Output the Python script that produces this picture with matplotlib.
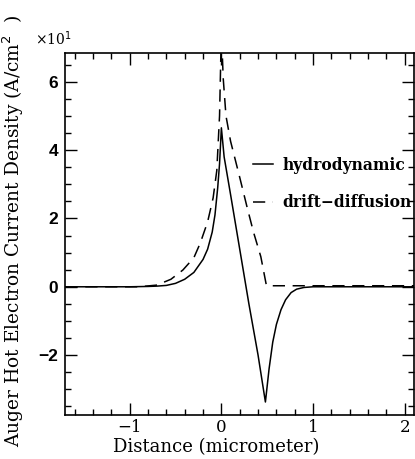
import matplotlib
matplotlib.use("Agg")
import matplotlib.pyplot as plt
from matplotlib.ticker import MultipleLocator

# hydrodynamic (solid), units of 10^1 A/cm^2
x_hydro = [-1.70, -1.0, -0.8, -0.7, -0.6, -0.5, -0.4, -0.3, -0.2, -0.15, -0.1,
           -0.07, -0.04, -0.02, 0.0, 0.03, 0.1, 0.2, 0.3, 0.4, 0.48, 0.52,
           0.56, 0.6, 0.65, 0.7, 0.76, 0.82, 0.9, 1.0, 1.2, 2.1]
y_hydro = [0.0, 0.0, 0.01, 0.02, 0.04, 0.1, 0.22, 0.42, 0.8, 1.1, 1.6,
           2.1, 2.9, 3.6, 4.65, 3.8, 2.7, 1.1, -0.5, -2.0, -3.37, -2.4,
           -1.62, -1.1, -0.67, -0.38, -0.17, -0.07, -0.02, 0.0, 0.0, 0.0]

# drift-diffusion (dashed)
x_dd = [-1.70, -0.9, -0.7, -0.64, -0.55, -0.42, -0.3, -0.23, -0.15, -0.09,
        -0.05, -0.02, 0.0, 0.02, 0.05, 0.1, 0.2, 0.28, 0.35, 0.43, 0.49,
        0.5, 2.1]
y_dd = [0.0, 0.0, 0.05, 0.12, 0.22, 0.49, 0.85, 1.28, 1.9, 2.6,
        3.4, 5.0, 7.5, 6.1, 5.0, 4.26, 3.2, 2.33, 1.6, 0.88, 0.05,
        0.03, 0.03]

serif = "DejaVu Serif"

fig = plt.figure(figsize=(4.15, 4.59), dpi=100)
ax = fig.add_axes([0.1566, 0.0959, 0.841, 0.788])

ax.plot(x_hydro, y_hydro, color="black", lw=1.1, label="hydrodynamic")
ax.plot(x_dd, y_dd, color="black", lw=1.1, dashes=(8, 5), label="drift\u2212diffusion")

ax.set_xlim(-1.705, 2.10)
ax.set_ylim(-3.75, 6.83)

ax.xaxis.set_major_locator(MultipleLocator(1))
ax.xaxis.set_minor_locator(MultipleLocator(0.2))
ax.yaxis.set_major_locator(MultipleLocator(2))
ax.yaxis.set_minor_locator(MultipleLocator(0.5))
ax.tick_params(which="both", direction="in", top=True, right=True, width=1.0)
ax.tick_params(which="major", length=8.5)
ax.tick_params(which="minor", length=4.5)
ax.tick_params(axis="x", labelsize=12, pad=3)
ax.tick_params(axis="y", labelsize=12.5, pad=5)
for lab in ax.get_xticklabels():
    lab.set_fontfamily(serif)
for lab in ax.get_yticklabels():
    lab.set_fontfamily("Liberation Sans")
    lab.set_fontweight("bold")
for s in ax.spines.values():
    s.set_linewidth(1.2)

ax.set_xlabel("Distance (micrometer)", family=serif, fontsize=13)
ax.xaxis.set_label_coords(0.433, -0.065)
ax.set_ylabel("Auger Hot Electron Current Density (A/cm$^2$  )", family=serif,
              fontsize=13.4)
ax.yaxis.set_label_coords(-0.112, 0.51)
ax.text(-0.085, 1.015, "\u00d710$^1$", transform=ax.transAxes, family=serif,
        fontsize=10, ha="left", va="bottom")

ax.legend(loc="upper left", bbox_to_anchor=(0.52, 0.731), frameon=False,
          prop={"family": serif, "weight": "bold", "size": 11.2},
          handlelength=1.3, handletextpad=0.6, labelspacing=1.3, borderaxespad=0)

fig.savefig("out.png", dpi=100)
